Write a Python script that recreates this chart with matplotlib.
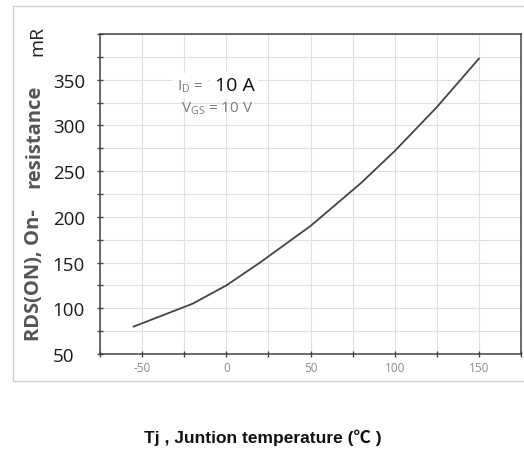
import matplotlib
matplotlib.use("Agg")
import matplotlib.pyplot as plt
from matplotlib.patches import Rectangle
from matplotlib.ticker import MultipleLocator

# Rds(on) vs junction temperature
temp = [-55, -20, 0, 20, 50, 80, 100, 125, 150]
rds_on = [80, 105, 125, 150, 190, 237, 272, 320, 373]

x_ticks = [-50, 0, 50, 100, 150]
y_ticks = [50, 100, 150, 200, 250, 300, 350]

plt.rcParams["axes.unicode_minus"] = False

W, H = 524, 452
fig = plt.figure(figsize=(W / 100, H / 100), dpi=100)
fig.patch.set_facecolor("white")

# light frame round the chart image
frame = Rectangle((13 / W, 1 - 382 / H), 530 / W, (382 - 7) / H,
                  transform=fig.transFigure, fill=False,
                  edgecolor="#cfcfcf", linewidth=1.0, clip_on=False)
fig.patches.append(frame)

ax = fig.add_axes([100 / W, 1 - 355 / H, (521 - 100) / W, (355 - 35) / H])
ax.set_xlim(-75, 175)
ax.set_ylim(50, 400)

ax.plot(temp, rds_on, color="#444444", linewidth=1.3, zorder=3)

ax.set_xticks(x_ticks)
ax.set_yticks(y_ticks)
ax.xaxis.set_minor_locator(MultipleLocator(25))
ax.yaxis.set_minor_locator(MultipleLocator(25))
ax.grid(True, which="both", color="#e0e0e0", linewidth=0.8)
ax.set_axisbelow(True)

for s in ax.spines.values():
    s.set_color("#444444")
    s.set_linewidth(1.1)

ax.tick_params(axis="both", which="both", direction="inout", color="#444444",
               length=4, width=1)
ax.tick_params(axis="x", labelsize=8.5, labelcolor="#8a8a8a", pad=3)
ax.tick_params(axis="y", labelsize=13.5, labelcolor="#1a1a22", pad=32)
for lab in ax.get_xticklabels() + ax.get_yticklabels():
    lab.set_family(["Open Sans", "DejaVu Sans"])
# y numbers are left aligned in the original
for lab in ax.get_yticklabels():
    lab.set_horizontalalignment("left")

# conditions box
ax.text(-29, 344, r"I$_\mathregular{D}$ =", fontsize=11, color="#7a7a7a",
        family="Open Sans", va="center", ha="left",
        bbox=dict(facecolor="white", edgecolor="none", pad=3))
ax.text(-7, 344, "10 A", fontsize=14, color="#111111",
        family="Open Sans", va="center", ha="left",
        bbox=dict(facecolor="white", edgecolor="none", pad=3))
ax.text(-27, 319, r"V$_\mathregular{GS}$ = 10 V", fontsize=11, color="#7a7a7a",
        family="Open Sans", va="center", ha="left")

# y label, split as in the original
fig.text(34 / W, 1 - 275 / H, "RDS(ON), On-", rotation=90, ha="center",
         va="center", fontsize=14.5, fontweight="bold", color="#555555",
         family="Open Sans")
fig.text(34 / W, 1 - 136 / H, "resistance", rotation=90, ha="center",
         va="center", fontsize=14.5, fontweight="bold", color="#555555",
         family="Open Sans")
fig.text(37 / W, 1 - 41 / H, "mR", rotation=90, ha="center",
         va="center", fontsize=14, color="#222222", family="Open Sans")

fig.text(263 / W, 1 - 438 / H, "Tj , Juntion temperature (℃ )", ha="center",
         va="center", fontsize=12.5, fontweight="bold", color="#111111",
         family=["Liberation Sans", "Noto Sans CJK SC"])

fig.savefig("out.png", dpi=100)
